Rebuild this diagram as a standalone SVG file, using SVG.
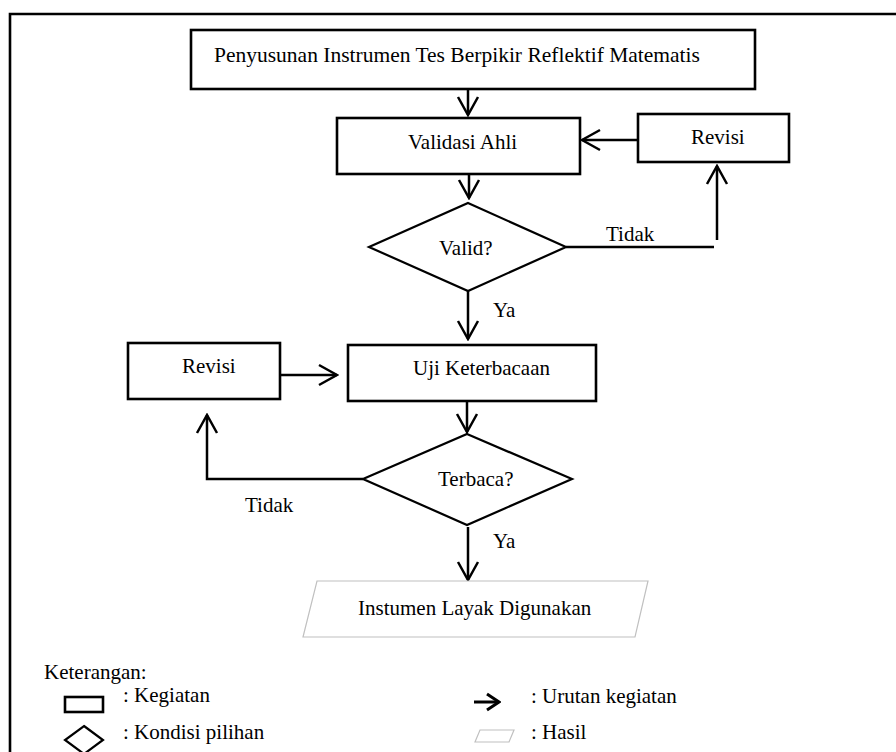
<svg xmlns="http://www.w3.org/2000/svg" width="896" height="752" viewBox="0 0 896 752">
<defs>
<style>
.box{fill:#fff;stroke:#000;stroke-width:2.6}
.dia{fill:#fff;stroke:#000;stroke-width:2.2}
.res{fill:#fff;stroke:#c0c0c0;stroke-width:1.2}
.ln{fill:none;stroke:#000;stroke-width:2.5}
.t{font-family:"Liberation Serif","Times New Roman",serif;font-size:21px;fill:#000}
</style>
<marker id="ah" markerUnits="userSpaceOnUse" markerWidth="22" markerHeight="24" viewBox="0 0 22 24" refX="20" refY="12" orient="auto">
<path d="M2,2 L20,12 L2,22" fill="none" stroke="#000" stroke-width="2.5"/>
</marker>
<marker id="ahs" markerUnits="userSpaceOnUse" markerWidth="16" markerHeight="20" viewBox="0 0 16 20" refX="14" refY="10" orient="auto">
<path d="M2,2 L14,10 L2,18" fill="none" stroke="#000" stroke-width="3"/>
</marker>
</defs>
<rect width="896" height="752" fill="#fff"/>
<path d="M10,752 V14 H896" fill="none" stroke="#000" stroke-width="2.6"/>

<g id="connectors">
<line class="ln" x1="468" y1="89" x2="468" y2="115" marker-end="url(#ah)"/>
<line class="ln" x1="638" y1="140" x2="582" y2="140" marker-end="url(#ah)"/>
<line class="ln" x1="469" y1="157" x2="469" y2="198" marker-end="url(#ah)"/>
<line class="ln" x1="566" y1="247" x2="714" y2="247"/>
<line class="ln" x1="717" y1="240" x2="717" y2="166" marker-end="url(#ah)"/>
<line class="ln" x1="468" y1="291" x2="468" y2="339" marker-end="url(#ah)"/>
<line class="ln" x1="280" y1="375" x2="337" y2="375" marker-end="url(#ah)"/>
<line class="ln" x1="467" y1="392" x2="467" y2="432" marker-end="url(#ah)"/>
<polyline class="ln" points="363,479 207,479 207,415" marker-end="url(#ah)"/>
<line class="ln" x1="468" y1="527" x2="468" y2="580" marker-end="url(#ah)"/>
<text class="t" x="606" y="241">Tidak</text>
<text class="t" x="493" y="317">Ya</text>
<text class="t" x="245" y="512">Tidak</text>
<text class="t" x="493" y="548">Ya</text>
</g>

<g id="n-penyusunan">
<rect class="box" x="191" y="30" width="564" height="59"/>
<text class="t" x="214" y="62" style="font-size:21.5px">Penyusunan Instrumen Tes Berpikir Reflektif Matematis</text>
</g>
<g id="n-validasi">
<rect class="box" x="337" y="118" width="243" height="56"/>
<text class="t" x="408" y="149">Validasi Ahli</text>
</g>
<g id="n-revisi1">
<rect class="box" x="638" y="114" width="151" height="48"/>
<text class="t" x="691" y="144">Revisi</text>
</g>
<g id="n-valid">
<polygon class="dia" points="468,203 566,247 468,291 369,247"/>
<text class="t" x="439" y="255">Valid?</text>
</g>
<g id="n-uji">
<rect class="box" x="348" y="345" width="248" height="56"/>
<text class="t" x="413" y="375">Uji Keterbacaan</text>
</g>
<g id="n-revisi2">
<rect class="box" x="128" y="343" width="152" height="56"/>
<text class="t" x="182" y="373">Revisi</text>
</g>
<g id="n-terbaca">
<polygon class="dia" points="467,434 572,479 467,525 363,479"/>
<text class="t" x="438" y="486">Terbaca?</text>
</g>
<g id="n-hasil">
<polygon class="res" points="317,581 648,581 635,637 303,637"/>
<text class="t" x="358" y="615">Instumen Layak Digunakan</text>
</g>

<g id="legend">
<text class="t" x="44" y="679">Keterangan:</text>
<rect class="box" x="65" y="697" width="38" height="15"/>
<text class="t" x="123" y="702">: Kegiatan</text>
<polygon class="dia" points="84,726 103,740 84,754 65,740"/>
<text class="t" x="123" y="739">: Kondisi pilihan</text>
<line x1="474" y1="702" x2="499" y2="702" stroke="#000" stroke-width="3" marker-end="url(#ahs)"/>
<text class="t" x="531" y="703">: Urutan kegiatan</text>
<polygon class="res" points="480,730 514,730 509,742 475,742"/>
<text class="t" x="531" y="739">: Hasil</text>
</g>
</svg>
